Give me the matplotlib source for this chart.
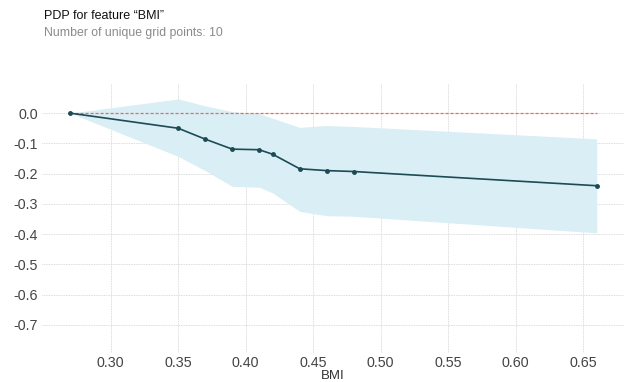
import matplotlib
matplotlib.use("Agg")
import matplotlib.pyplot as plt

plt.rcParams["font.family"] = ["Liberation Sans", "DejaVu Sans"]

# PDP grid points for feature BMI
bmi = [0.27, 0.35, 0.37, 0.39, 0.41, 0.42, 0.44, 0.46, 0.48, 0.66]
pdp = [0.0, -0.050, -0.086, -0.119, -0.121, -0.136, -0.184, -0.190, -0.193, -0.240]
upper = [0.0, 0.047, 0.024, 0.005, -0.002, -0.017, -0.047, -0.041, -0.044, -0.085]
lower = [0.0, -0.143, -0.190, -0.242, -0.245, -0.264, -0.325, -0.339, -0.341, -0.396]

x_ticks = [0.30, 0.35, 0.40, 0.45, 0.50, 0.55, 0.60, 0.65]
y_ticks = [0.0, -0.1, -0.2, -0.3, -0.4, -0.5, -0.6, -0.7]

LINE_COLOR = "#1d4a55"
BAND_COLOR = "#d9eff5"
ZERO_COLOR = "#ec6a5a"
GRID_COLOR = "#d0d0d0"
TICK_COLOR = "#444444"

fig = plt.figure(figsize=(6.24, 3.82), dpi=100)
fig.patch.set_facecolor("white")
ax = fig.add_axes([0.0673, 0.076, 0.9327, 0.707])

ax.fill_between(bmi, lower, upper, color=BAND_COLOR, linewidth=0, zorder=1)
ax.plot([bmi[0], bmi[-1]], [0, 0], color=ZERO_COLOR, linestyle=(0, (2.5, 1.5)),
        linewidth=0.9, zorder=2)
ax.plot(bmi, pdp, color=LINE_COLOR, linewidth=1.2, marker="o", markersize=2.5,
        zorder=3)

ax.set_xlim(0.2491, 0.6802)
ax.set_ylim(-0.793, 0.100)
ax.set_xticks(x_ticks)
ax.set_xticklabels([f"{v:.2f}" for v in x_ticks])
ax.set_yticks(y_ticks)
ax.set_yticklabels([f"{v:.1f}" for v in y_ticks])

ax.grid(True, color=GRID_COLOR, linestyle=(0, (1, 1)), linewidth=0.6, zorder=0)
ax.set_axisbelow(True)
for spine in ax.spines.values():
    spine.set_visible(False)
ax.tick_params(length=0, labelsize=10.3, colors=TICK_COLOR, pad=3)
ax.tick_params(axis="x", pad=2.5)

ax.set_xlabel("BMI", fontsize=9.5, color="#333333", labelpad=0)

fig.text(0.0705, 0.958, "PDP for feature \u201cBMI\u201d", fontsize=9,
         color="#111111", va="center", ha="left")
fig.text(0.0705, 0.913, "Number of unique grid points: 10", fontsize=8.8,
         color="#8a8a8a", va="center", ha="left")

fig.savefig("out.png", dpi=100, facecolor="white")
plt.close(fig)
